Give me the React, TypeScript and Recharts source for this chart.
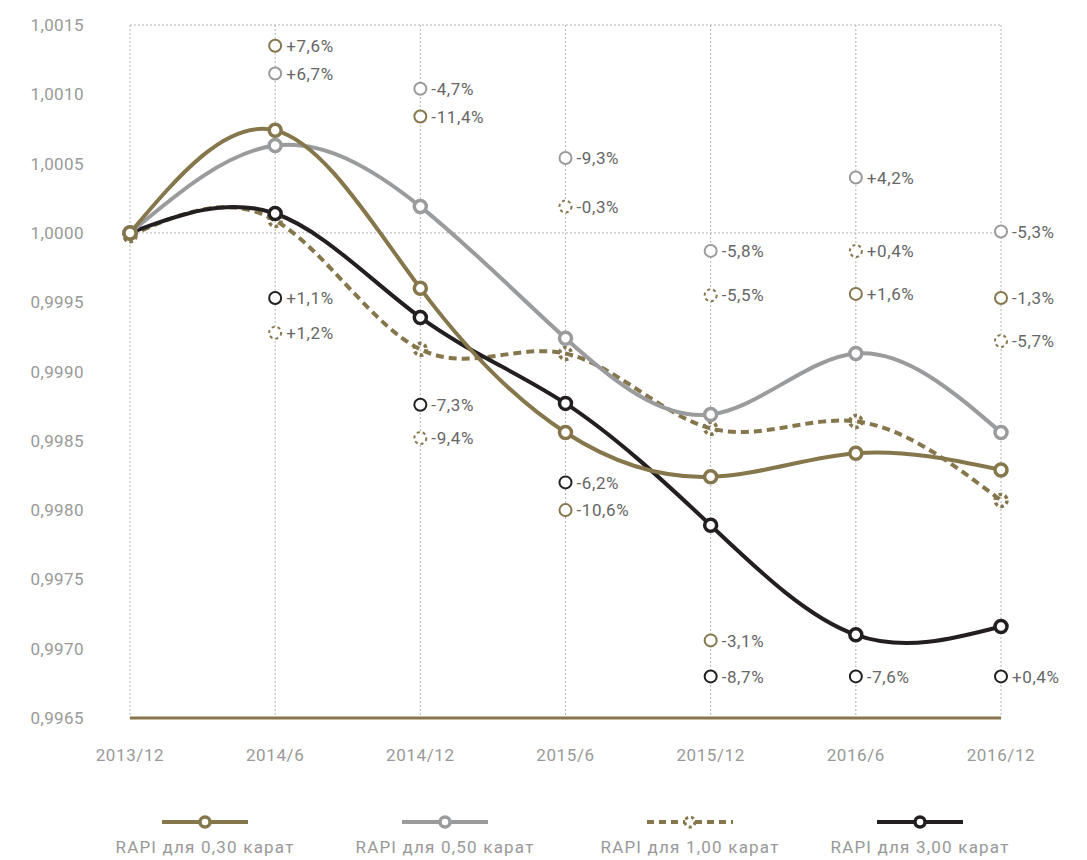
import React from 'react';
import {
  ComposedChart,
  Line,
  Scatter,
  XAxis,
  YAxis,
  CartesianGrid,
  Legend,
} from 'recharts';

const OLIVE = '#85764b';
const GRAY = '#9a9b9d';
const BLACK = '#231f20';
const FONT = 'Roboto, "Noto Sans", sans-serif';

const periods = ['2013/12', '2014/6', '2014/12', '2015/6', '2015/12', '2016/6', '2016/12'];

// index values per series
const rapi030 = [1.0, 1.00074, 0.9996, 0.99856, 0.99824, 0.99841, 0.99829];
const rapi050 = [1.0, 1.00063, 1.00019, 0.99924, 0.99869, 0.99913, 0.99856];
const rapi100 = [0.99998, 1.00009, 0.99916, 0.99913, 0.99859, 0.99864, 0.99807];
const rapi300 = [1.0, 1.00014, 0.99939, 0.99877, 0.99789, 0.9971, 0.99716];

// annotation markers (position on the y scale + text), null where absent
const note030 = [null, 1.00135, 1.00084, 0.998, 0.99706, 0.99956, 0.99953];
const note050 = [null, 1.00115, 1.00104, 1.00054, 0.99987, 1.0004, 1.00001];
const note100 = [null, 0.99928, 0.99852, 1.00019, 0.99955, 0.99987, 0.99922];
const note300 = [null, 0.99953, 0.99876, 0.9982, 0.9968, 0.9968, 0.9968];

const text030 = ['', '+7,6%', '-11,4%', '-10,6%', '-3,1%', '+1,6%', '-1,3%'];
const text050 = ['', '+6,7%', '-4,7%', '-9,3%', '-5,8%', '+4,2%', '-5,3%'];
const text100 = ['', '+1,2%', '-9,4%', '-0,3%', '-5,5%', '+0,4%', '-5,7%'];
const text300 = ['', '+1,1%', '-7,3%', '-6,2%', '-8,7%', '-7,6%', '+0,4%'];

const yTicks = [0.9965, 0.997, 0.9975, 0.998, 0.9985, 0.999, 0.9995, 1.0, 1.0005, 1.001, 1.0015];

const legendItems = [
  { name: 'RAPI для 0,30 карат', color: OLIVE, dashed: false },
  { name: 'RAPI для 0,50 карат', color: GRAY, dashed: false },
  { name: 'RAPI для 1,00 карат', color: OLIVE, dashed: true },
  { name: 'RAPI для 3,00 карат', color: BLACK, dashed: false },
];
const legendCenters = [205, 445, 690, 920];

const data = periods.map((p, i) => ({
  period: p,
  r030: rapi030[i],
  r050: rapi050[i],
  r100: rapi100[i],
  r300: rapi300[i],
  n030: note030[i],
  n050: note050[i],
  n100: note100[i],
  n300: note300[i],
  t030: text030[i],
  t050: text050[i],
  t100: text100[i],
  t300: text300[i],
}));

const fmt = (v: number) => v.toFixed(4).replace('.', ',');

function RingDot(props: any) {
  const { cx, cy, stroke } = props;
  if (cx == null || cy == null) return null;
  return <circle cx={cx} cy={cy} r={6} fill="#fff" stroke={stroke} strokeWidth={3.5} />;
}

function DashedDot(props: any) {
  const { cx, cy } = props;
  if (cx == null || cy == null) return null;
  return (
    <circle cx={cx} cy={cy} r={6} fill="none" stroke={OLIVE} strokeWidth={3.5} strokeDasharray="3.5 2.8" />
  );
}

function makeNote(color: string, textKey: string, dashed = false) {
  return (props: any) => {
    const { cx, cy, payload } = props;
    if (cx == null || cy == null || !payload || payload[textKey] === '') return null;
    return (
      <g>
        <circle
          cx={cx}
          cy={cy}
          r={6}
          fill="#fff"
          stroke={color}
          strokeWidth={2}
          strokeDasharray={dashed ? '3 3' : undefined}
        />
        <text
          x={cx + 11}
          y={cy}
          dy="0.36em"
          fontSize={17}
          letterSpacing={0.6}
          fill="#666"
          fontFamily={FONT}
        >
          {payload[textKey]}
        </text>
      </g>
    );
  };
}

function LegendBox() {
  return (
    <svg width={1087} height={60} style={{ display: 'block' }}>
      {legendItems.map((it, i) => {
        const c = legendCenters[i];
        return (
          <g key={it.name}>
            <line
              x1={c - 43}
              x2={c + 43}
              y1={17}
              y2={17}
              stroke={it.color}
              strokeWidth={4}
              strokeDasharray={it.dashed ? '7 5' : undefined}
            />
            {it.dashed ? (
              <circle cx={c} cy={17} r={5} fill="#fff" stroke={it.color} strokeWidth={3} strokeDasharray="3 3" />
            ) : (
              <circle cx={c} cy={17} r={5} fill="#fff" stroke={it.color} strokeWidth={3.5} />
            )}
            <text
              x={c}
              y={48}
              textAnchor="middle"
              fontSize={17}
              letterSpacing={1.2}
              fill="#999"
              fontFamily={FONT}
            >
              {it.name}
            </text>
          </g>
        );
      })}
    </svg>
  );
}

export default function App() {
  return (
    <div style={{ position: 'absolute', left: 0, top: 0, width: 1087, height: 860, background: '#fff' }}>
      <ComposedChart
        width={1087}
        height={860}
        data={data}
        margin={{ top: 25, right: 86, bottom: 0, left: 30 }}
      >
        <CartesianGrid
          stroke="#b5b5b5"
          strokeDasharray="2 2"
          horizontalValues={[1.0015, 1.0]}
        />
        <XAxis
          dataKey="period"
          scale="point"
          height={142}
          axisLine={{ stroke: OLIVE, strokeWidth: 3 }}
          tickLine={false}
          tickMargin={25}
          tick={{ fontSize: 17, fill: '#999', fontFamily: FONT, letterSpacing: 0.6 }}
          interval={0}
        />
        <YAxis
          type="number"
          domain={[0.9965, 1.0015]}
          ticks={yTicks}
          allowDataOverflow
          width={100}
          axisLine={false}
          tickLine={false}
          tickSize={0}
          tickMargin={46}
          tickFormatter={fmt}
          tick={{ fontSize: 17, fill: '#999', fontFamily: FONT, letterSpacing: 0.4 }}
        />
        <Legend
          verticalAlign="middle"
          wrapperStyle={{ position: 'absolute', top: 805, left: 0, width: 1087 }}
          content={() => <LegendBox />}
        />
        <Line
          type="natural"
          dataKey="r100"
          stroke={OLIVE}
          strokeWidth={4}
          strokeDasharray="8 5"
          dot={<DashedDot />}
          activeDot={false}
          isAnimationActive={false}
        />
        <Line
          type="natural"
          dataKey="r300"
          stroke={BLACK}
          strokeWidth={4}
          dot={<RingDot stroke={BLACK} />}
          activeDot={false}
          isAnimationActive={false}
        />
        <Line
          type="natural"
          dataKey="r050"
          stroke={GRAY}
          strokeWidth={4}
          dot={<RingDot stroke={GRAY} />}
          activeDot={false}
          isAnimationActive={false}
        />
        <Line
          type="natural"
          dataKey="r030"
          stroke={OLIVE}
          strokeWidth={4}
          dot={<RingDot stroke={OLIVE} />}
          activeDot={false}
          isAnimationActive={false}
        />
        <Scatter dataKey="n030" shape={makeNote(OLIVE, 't030')} isAnimationActive={false} />
        <Scatter dataKey="n050" shape={makeNote(GRAY, 't050')} isAnimationActive={false} />
        <Scatter dataKey="n100" shape={makeNote(OLIVE, 't100', true)} isAnimationActive={false} />
        <Scatter dataKey="n300" shape={makeNote(BLACK, 't300')} isAnimationActive={false} />
      </ComposedChart>
    </div>
  );
}
